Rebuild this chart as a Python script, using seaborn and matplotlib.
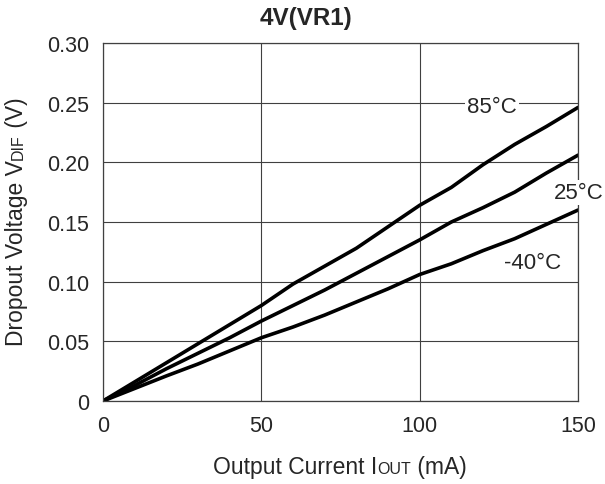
import pandas as pd
import matplotlib
matplotlib.use('Agg')
import matplotlib.pyplot as plt
import matplotlib.transforms as mtransforms
import seaborn as sns

sns.set_style('white')
plt.rcParams['font.family'] = ['Liberation Sans', 'DejaVu Sans']

# 데이터
current = [0, 10, 20, 30, 40, 50, 60, 70, 80, 90, 100, 110, 120, 130, 140, 150]
v_85 = [0, 0.016, 0.032, 0.048, 0.064, 0.080, 0.098, 0.113, 0.128, 0.146, 0.164, 0.179, 0.198, 0.215, 0.230, 0.246]
v_25 = [0, 0.013, 0.027, 0.040, 0.053, 0.067, 0.080, 0.093, 0.107, 0.121, 0.135, 0.150, 0.162, 0.175, 0.191, 0.206]
v_m40 = [0, 0.0105, 0.021, 0.031, 0.042, 0.053, 0.062, 0.072, 0.083, 0.094, 0.106, 0.115, 0.126, 0.136, 0.148, 0.160]
temps = ['85°C', '25°C', '-40°C']
label_pos = [(122.8, 0.247), (150.3, 0.175), (135.5, 0.116)]
x_ticks = [0, 50, 100, 150]
y_ticks = [0, 0.05, 0.10, 0.15, 0.20, 0.25, 0.30]

df = pd.DataFrame({
    'current': current * 3,
    'vdif': v_85 + v_25 + v_m40,
    'temp': [t for t in temps for _ in current],
})

fig = plt.figure(figsize=(6.05, 4.85), dpi=100)
ax = fig.add_axes([103 / 605, 1 - 402 / 485, 475 / 605, 358 / 485])

sns.lineplot(data=df, x='current', y='vdif', hue='temp', palette=['black'] * 3,
             legend=False, lw=2.6, ax=ax)

ax.set_xlim(0, 150)
ax.set_ylim(0, 0.30)
ax.set_xticks(x_ticks)
ax.set_yticks(y_ticks)
ax.set_yticklabels(['0' if v == 0 else f'{v:.2f}' for v in y_ticks])
ax.tick_params(length=0, labelsize=15.5, pad=10)
ax.grid(True, color='#404040', lw=0.8)
ax.set_axisbelow(True)
for s in ax.spines.values():
    s.set_color('#404040')
    s.set_linewidth(0.9)
ax.set_xlabel('')
ax.set_ylabel('')

for t, (x, y) in zip(temps, label_pos):
    ax.text(x, y, t, fontsize=16, ha='center', va='center', clip_on=False,
            bbox=dict(facecolor='white', edgecolor='none', pad=1.5))

fig.text(0.506, 0.961, '4V(VR1)', fontsize=17.5, fontweight='bold', ha='center', va='center')

# 작은 대문자 첨자가 들어간 축 제목 (픽셀 좌표로 조각을 이어 붙임)
renderer = fig.canvas.get_renderer()
ident = mtransforms.IdentityTransform()


def rich_label(pieces, cx, cy, vertical):
    texts = []
    for s, size in pieces:
        t = fig.text(0, 0, s, fontsize=size, transform=ident, ha='left', va='baseline',
                     rotation=90 if vertical else 0, rotation_mode='anchor')
        texts.append(t)
    lens = []
    for t in texts:
        bb = t.get_window_extent(renderer)
        lens.append(bb.height if vertical else bb.width)
    pos = (cy if vertical else cx) - sum(lens) / 2
    for t, L in zip(texts, lens):
        t.set_position((cx, pos) if vertical else (pos, cy))
        pos += L


rich_label([('Output Current I', 16.5), ('OUT', 11.5), (' (mA)', 16.5)], 340, 11, False)
rich_label([('Dropout Voltage V', 16.5), ('DIF', 11.5), (' (V)', 16.5)], 23, 263, True)

fig.savefig('out.png', dpi=100)
